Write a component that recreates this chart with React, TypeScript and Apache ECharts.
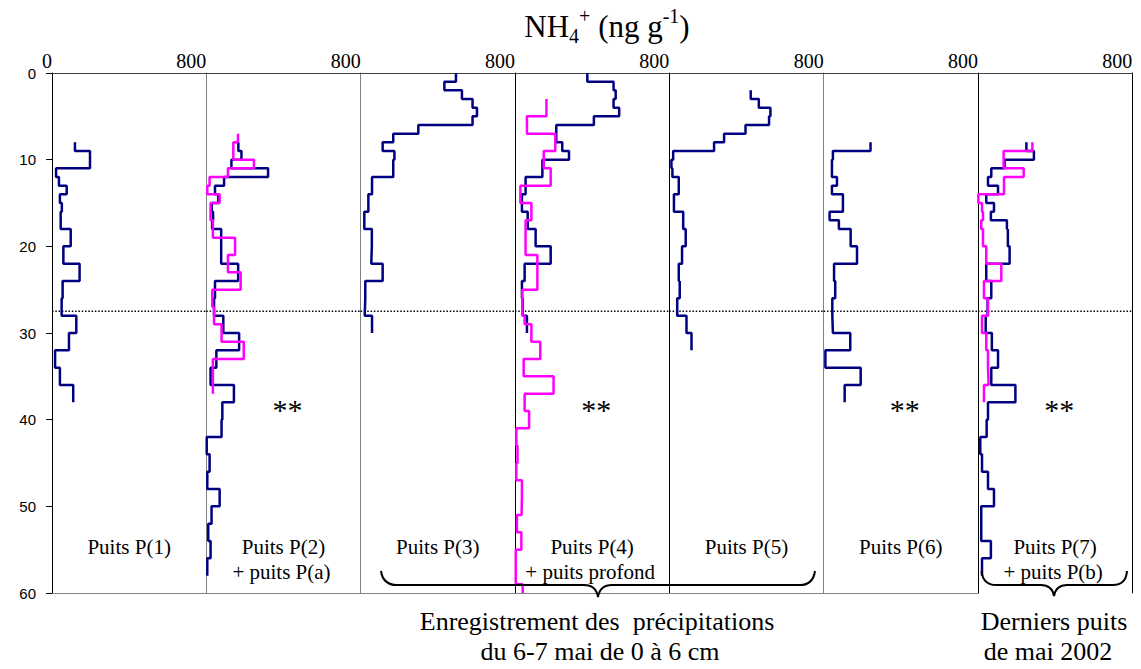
import React, { useEffect, useRef } from "react";
import * as echarts from "echarts";

// ---------- data ----------
const xTickMax = 800;
const depthMax = 60;
const depthInterval = 10;
const markerDepth = 27.5;

// step profiles: depth boundaries (cm) and NH4+ value of each layer (ng/g)
const p1BlueDepths = [8, 9, 11, 12, 13, 14, 15, 16, 18, 20, 22, 24, 26, 28, 30, 32, 34, 36, 38];
const p1BlueValues = [119, 197, 21, 36, 76, 41, 51, 45, 97, 59, 143, 55, 50, 126, 88, 16, 41, 110];

const p2BlueDepths = [8, 9, 10, 11, 12, 13, 14, 15, 16, 17, 18, 22, 24, 26, 28, 30, 32, 34, 36, 38, 40, 42, 44, 46, 48, 50, 52, 54, 56, 58];
const p2BlueValues = [166, 182, 130, 320, 92, 45, 62, 28, 35, 30, 77, 165, 45, 40, 88, 170, 52, 22, 143, 83, 79, 2, 17, 5, 69, 27, 10, 22, 5];
const p2PinkDepths = [7, 8, 10, 11, 12, 13, 14, 15, 17, 19, 21, 23, 25, 27, 29, 31, 33, 37];
const p2PinkValues = [164, 140, 247, 112, 17, 5, 69, 22, 34, 149, 112, 178, 31, 40, 79, 194, 34];

const p3BlueDepths = [0, 1, 2, 3, 4, 5, 6, 7, 8, 9, 10, 12, 14, 16, 18, 20, 22, 24, 26, 28, 30];
const p3BlueValues = [494, 434, 525, 580, 603, 580, 299, 169, 114, 175, 169, 59, 40, 19, 58, 55, 114, 24, 21, 59];

const p4BlueDepths = [0, 1, 2, 3, 4, 5, 6, 8, 9, 10, 12, 14, 16, 18, 20, 22, 24, 26, 28, 30];
const p4BlueValues = [375, 511, 522, 511, 540, 409, 214, 245, 280, 142, 55, 36, 66, 107, 185, 50, 36, 40, 62];
const p4PinkDepths = [3, 5, 7, 9, 11, 13, 15, 17, 21, 25, 28, 29, 31, 33, 35, 37, 39, 41, 43, 45, 47, 49, 51, 53, 55, 59, 60];
const p4PinkValues = [163, 62, 209, 149, 185, 28, 85, 55, 116, 38, 50, 85, 131, 45, 200, 50, 73, 7, 13, 7, 36, 34, 10, 33, 4, 40];

const p5BlueDepths = [2, 3, 4, 5, 6, 7, 8, 9, 10, 11, 12, 14, 16, 18, 20, 22, 24, 26, 28, 30, 32];
const p5BlueValues = [422, 464, 524, 517, 395, 284, 232, 20, 11, 16, 49, 24, 72, 85, 66, 49, 54, 41, 89, 115];

const p6BlueDepths = [8, 9, 10, 12, 13, 14, 16, 17, 18, 20, 22, 24, 26, 28, 30, 32, 34, 36, 38];
const p6BlueValues = [243, 48, 43, 69, 43, 100, 31, 79, 140, 173, 54, 60, 45, 48, 138, 9, 192, 109];

const p7BlueDepths = [8, 9, 10, 11, 12, 13, 14, 15, 16, 17, 18, 20, 22, 24, 26, 28, 30, 32, 34, 36, 38, 40, 42, 44, 46, 48, 50, 52, 54, 56, 58];
const p7BlueValues = [251, 290, 138, 69, 52, 104, 43, 83, 67, 150, 155, 164, 43, 69, 50, 40, 72, 104, 69, 194, 52, 45, 12, 21, 52, 83, 17, 17, 67, 21];
const p7PinkDepths = [8, 9, 11, 12, 14, 15, 16, 17, 18, 20, 22, 24, 26, 28, 30, 32, 34, 36, 38];
const p7PinkValues = [282, 133, 237, 135, 2, 21, 26, 17, 26, 43, 121, 31, 52, 21, 43, 52, 55, 31];

const panelBlue = [
  [p1BlueDepths, p1BlueValues],
  [p2BlueDepths, p2BlueValues],
  [p3BlueDepths, p3BlueValues],
  [p4BlueDepths, p4BlueValues],
  [p5BlueDepths, p5BlueValues],
  [p6BlueDepths, p6BlueValues],
  [p7BlueDepths, p7BlueValues],
];
const panelPink: Record<number, [number[], number[]]> = {
  1: [p2PinkDepths, p2PinkValues],
  3: [p4PinkDepths, p4PinkValues],
  6: [p7PinkDepths, p7PinkValues],
};

const panelLabels = [
  ["Puits P(1)"],
  ["Puits P(2)", "+ puits P(a)"],
  ["Puits P(3)"],
  ["Puits P(4)", "+ puits profond"],
  ["Puits P(5)"],
  ["Puits P(6)"],
  ["Puits P(7)", "+ puits P(b)"],
];
const starPanels = [1, 3, 5, 6];
const starText = "**";
const titleRich = "{a|NH}{b|4}{c|+}{a| (ng g}{c|-1}{a|)}";
const bottomText1 = ["Enregistrement des  précipitations", "du 6-7 mai de 0 à 6 cm"];
const bottomText2 = ["Derniers puits", "de mai 2002"];

// ---------- helpers ----------
function stepPoints(depths: number[], values: number[]) {
  const pts: number[][] = [];
  for (let i = 0; i < values.length; i++) {
    pts.push([values[i], depths[i]]);
    pts.push([values[i], depths[i + 1]]);
  }
  return pts;
}

const SERIF = "'Liberation Serif', 'Times New Roman', serif";
const SANS = "'Liberation Sans', Arial, sans-serif";

const braceD =
  "M381 571 Q383 585 397 585 L584 585 Q596 585 598 597 Q600 585 612 585 L800 585 Q813 585 815 571 " +
  "M981.5 571 Q983 585 996 585 L1041 585 Q1052 585 1054 596 Q1056 585 1067 585 L1113 585 Q1126 585 1127 571";
let braceRegistered = false;

export default function App() {
  const ref = useRef<HTMLDivElement>(null);
  useEffect(() => {
    if (!ref.current) return;
    if (!braceRegistered) {
      echarts.graphic.registerShape("braces", echarts.graphic.extendPath(braceD, {}) as any);
      braceRegistered = true;
    }
    const chart = echarts.init(ref.current, null, { renderer: "svg" });

    const L = 52;
    const R = 1132.3;
    const W = (R - L) / 7;
    const TOP = 73;
    const H = 520;
    const sepColors = ["#000", "#808080", "#808080", "#000", "#000", "#808080", "#000"];

    const grid: any[] = [];
    const xAxis: any[] = [];
    const yAxis: any[] = [];
    const series: any[] = [];
    const graphic: any[] = [];

    for (let i = 0; i < 7; i++) {
      grid.push({ left: L + i * W, top: TOP, width: W, height: H });
      xAxis.push({
        gridIndex: i,
        type: "value",
        position: "top",
        min: 0,
        max: xTickMax,
        interval: xTickMax,
        axisLine: { show: true, onZero: false, lineStyle: { color: "#404040", width: 1 } },
        axisTick: { show: false },
        splitLine: { show: false },
        axisLabel: {
          show: true,
          color: "#000",
          fontFamily: SERIF,
          fontSize: 20,
          align: "right",
          margin: 2,
          formatter: (v: number) => (v === xTickMax || i === 0 ? String(v) : ""),
        },
      });
      yAxis.push({
        gridIndex: i,
        type: "value",
        inverse: true,
        min: 0,
        max: depthMax,
        interval: depthInterval,
        axisLine: { show: true, onZero: false, lineStyle: { color: sepColors[i], width: 1 } },
        axisTick: { show: i === 0, length: 6, lineStyle: { color: "#000" } },
        splitLine: { show: false },
        axisLabel: {
          show: i === 0,
          color: "#000",
          fontFamily: SANS,
          fontSize: 15,
          margin: 16,
        },
      });
      const [bd, bv] = panelBlue[i] as [number[], number[]];
      series.push({
        type: "line",
        xAxisIndex: i,
        yAxisIndex: i,
        data: stepPoints(bd, bv),
        symbol: "none",
        lineStyle: { color: "#000080", width: 2.5 },
        z: 3,
      });
      if (panelPink[i]) {
        const [pd, pv] = panelPink[i];
        series.push({
          type: "line",
          xAxisIndex: i,
          yAxisIndex: i,
          data: stepPoints(pd, pv),
          symbol: "none",
          lineStyle: { color: "#ff00ff", width: 2.5 },
          z: 4,
        });
      }
      series.push({
        type: "line",
        xAxisIndex: i,
        yAxisIndex: i,
        data: [
          [0, markerDepth],
          [xTickMax, markerDepth],
        ],
        symbol: "none",
        lineStyle: { color: "#000", width: 1.5, type: [1.5, 1.8] },
        z: 2,
      });

      const cx = L + i * W + W / 2;
      const lines = panelLabels[i];
      lines.forEach((t, k) => {
        graphic.push({
          type: "text",
          x: cx + (k === 1 ? -2 : 0),
          y: 547 + k * 25,
          style: { text: t, fill: "#000", font: `21px ${SERIF}`, align: "center", verticalAlign: "middle" },
        });
      });
      if (starPanels.includes(i)) {
        graphic.push({
          type: "text",
          x: cx + 4,
          y: 409,
          style: { text: starText, fill: "#000", font: `30px ${SERIF}`, align: "center", verticalAlign: "middle" },
        });
      }
    }
    // bottom borders for first six panels, right border of last
    for (let i = 0; i < 6; i++) {
      xAxis.push({
        gridIndex: i,
        type: "value",
        position: "bottom",
        min: 0,
        max: xTickMax,
        axisLine: { show: true, onZero: false, lineStyle: { color: "#808080", width: 1 } },
        axisTick: { show: false },
        axisLabel: { show: false },
        splitLine: { show: false },
      });
    }
    yAxis.push({
      gridIndex: 6,
      type: "value",
      inverse: true,
      position: "right",
      min: 0,
      max: depthMax,
      axisLine: { show: true, onZero: false, lineStyle: { color: "#000", width: 1 } },
      axisTick: { show: false },
      axisLabel: { show: false },
      splitLine: { show: false },
    });

    graphic.push({
      type: "text",
      x: 607,
      y: 26,
      style: {
        text: titleRich,
        align: "center",
        verticalAlign: "middle",
        fill: "#000",
        rich: {
          a: { fontFamily: SERIF, fontSize: 31, lineHeight: 40, fill: "#000" },
          b: { fontFamily: SERIF, fontSize: 20, lineHeight: 24, verticalAlign: "bottom", fill: "#000" },
          c: { fontFamily: SERIF, fontSize: 20, lineHeight: 24, verticalAlign: "top", fill: "#000" },
        },
      },
    });
    const b1x = [597, 600];
    bottomText1.forEach((t, k) => {
      graphic.push({
        type: "text",
        x: b1x[k],
        y: 621 + k * 30,
        style: { text: t, fill: "#000", font: `26px ${SERIF}`, align: "center", verticalAlign: "middle" },
      });
    });
    const b2x = [1054, 1048];
    bottomText2.forEach((t, k) => {
      graphic.push({
        type: "text",
        x: b2x[k],
        y: 621 + k * 30,
        style: { text: t, fill: "#000", font: `26px ${SERIF}`, align: "center", verticalAlign: "middle" },
      });
    });
    graphic.push({
      type: "braces",
      x: 0,
      y: 0,
      style: { stroke: "#000", fill: "none", lineWidth: 2 },
      z: 10,
    });

    chart.setOption({
      animation: false,
      backgroundColor: "#fff",
      grid,
      xAxis,
      yAxis,
      series,
      graphic,
    });
    return () => chart.dispose();
  }, []);
  return (
    <div
      ref={ref}
      style={{ position: "absolute", left: 0, top: 0, width: 1141, height: 669, background: "#fff" }}
    />
  );
}
